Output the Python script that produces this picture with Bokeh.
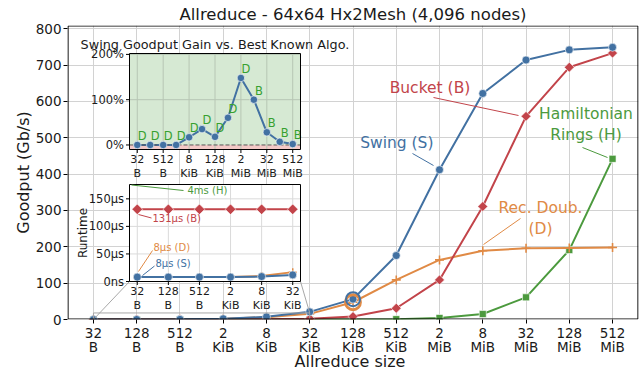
import math
from bokeh.plotting import figure
from bokeh.models import Range1d, FixedTicker, LinearAxis
from bokeh.core.properties import value
from bokeh.embed import file_html
from bokeh.resources import INLINE

# ---- data -------------------------------------------------------------
size_nums = ["32", "128", "512", "2", "8", "32", "128", "512", "2", "8", "32", "128", "512"]
size_units = ["B", "B", "B", "KiB", "KiB", "KiB", "KiB", "KiB", "MiB", "MiB", "MiB", "MiB", "MiB"]

# goodput in Gb/s per allreduce size
goodput_swing = [0.03, 0.13, 0.5, 2.0, 7.3, 21, 56, 176, 412, 622, 714, 742, 749]
goodput_bucket = [0.002, 0.008, 0.03, 0.13, 0.5, 2.0, 8, 31, 109, 311, 559, 694, 733]
goodput_recdoub = [0.03, 0.13, 0.5, 2.0, 6.2, 15.5, 47.5, 109, 164, 189, 196, 197, 198]
goodput_hamilton = [0.0001, 0.0003, 0.001, 0.004, 0.02, 0.07, 0.26, 1.0, 4.2, 15, 61, 191, 442]
goodput_ticks = [0, 100, 200, 300, 400, 500, 600, 700, 800]

# swing gain (%) over best known algorithm, and which algorithm that is
gain_pct = [0, 0, 0, 0, 17, 35, 18, 60, 148, 100, 28, 7, 2]
gain_best = ["D", "D", "D", "D", "D", "D", "D", "D", "D", "B", "B", "B", "B"]
gain_ticks = [0, 100, 200]
gain_tick_labels = ["0%", "100%", "200%"]
gain_size_ticks = [0, 2, 4, 6, 8, 10, 12]

# small-message runtime (µs), sizes 32 B .. 32 KiB
runtime_sizes = [0, 1, 2, 3, 4, 5]
runtime_swing = [8, 8, 8, 8, 9, 12]
runtime_recdoub = [8, 8, 8, 8, 10, 17]
runtime_bucket = [131, 131, 131, 131, 131, 131]
runtime_hamilton_ms = 4
runtime_ticks = [0, 50, 100, 150]
runtime_tick_labels = ["0ns", "50µs", "100µs", "150µs"]

# ---- style ------------------------------------------------------------
FONT = "DejaVu Sans"
BLUE = "#4271a2"
RED = "#c2444a"
ORANGE = "#e08a45"
GREEN = "#4c9a3e"
LABEL_GREEN = "#36a02f"
INK = "#1a1a1a"
GRID = "#d2d2d2"

W, H = 639, 373
FL, FR, FT, FB = 67, 638, 25, 319


class Box:
    """Maps a pixel box of the canvas onto a data window."""

    def __init__(self, l, r, t, b, x0, x1, y0, y1):
        self.l, self.r, self.t, self.b = l, r, t, b
        self.x0, self.x1, self.y0, self.y1 = x0, x1, y0, y1
        self.sx = (r - l) / (x1 - x0)
        self.sy = (b - t) / (y1 - y0)

    def x(self, px):
        return self.x0 + (px - self.l) / self.sx

    def y(self, py):
        return self.y0 + (self.b - py) / self.sy

    def ranges(self):
        return Range1d(self.x(FL), self.x(FR)), Range1d(self.y(FB), self.y(FT))


main = Box(FL, FR, FT, FB, -0.6, 12.6, 0, 809)
gain = Box(129, 300, 53, 149, -0.6, 12.6, -10, 202)
rt = Box(129, 300, 184, 281, -0.25, 5.25, 0, 176)

mxr, myr = main.ranges()
p = figure(width=W, height=H, x_range=mxr, y_range=myr,
           output_backend="svg", toolbar_location=None,
           min_border_left=FL, min_border_right=W - FR,
           min_border_top=FT, min_border_bottom=H - FB)
gxr, gyr = gain.ranges()
rxr, ryr = rt.ranges()
p.extra_x_ranges = {"gx": gxr, "rx": rxr}
p.extra_y_ranges = {"gy": gyr, "ry": ryr}
G = dict(x_range_name="gx", y_range_name="gy")
R = dict(x_range_name="rx", y_range_name="ry")

p.background_fill_color = "white"
p.border_fill_color = "white"
p.outline_line_color = None

p.title.text = "Allreduce - 64x64 Hx2Mesh (4,096 nodes)"
p.title.align = "center"
p.title.text_font = FONT
p.title.text_font_size = "16.5px"
p.title.text_font_style = "normal"
p.title.text_color = INK
p.title.standoff = 3

# ---- main axes --------------------------------------------------------
xs = list(range(len(size_nums)))
xaxis = p.xaxis[0]
yaxis = p.yaxis[0]
xaxis.ticker = FixedTicker(ticks=xs)
xaxis.major_label_overrides = {i: f"{size_nums[i]}\n{size_units[i]}" for i in xs}
yaxis.ticker = FixedTicker(ticks=goodput_ticks)
yaxis.axis_label = "Goodput (Gb/s)"
yaxis.axis_label_standoff = 0
for ax in (xaxis, yaxis):
    ax.axis_line_color = None
    ax.major_tick_line_color = "black"
    ax.major_tick_out = 4
    ax.major_tick_in = 0
    ax.minor_tick_line_color = None
    ax.major_label_standoff = 2
    ax.major_label_text_font = FONT
    ax.major_label_text_font_size = "13.5px"
    ax.major_label_text_color = INK
    ax.axis_label_text_font = FONT
    ax.axis_label_text_font_size = "16px"
    ax.axis_label_text_font_style = "normal"
    ax.axis_label_text_color = INK
xaxis.major_label_standoff = 1
xaxis.major_label_text_line_height = 0.9
p.xgrid.grid_line_color = GRID
p.ygrid.grid_line_color = GRID

# x-axis title carried by a tick-less axis beneath the size labels
xlabel_at = round(main.x(349.5), 2)
p.add_layout(LinearAxis(ticker=FixedTicker(ticks=[xlabel_at]),
                        major_label_overrides={xlabel_at: "Allreduce size"},
                        axis_line_color=None, major_tick_line_color=None, minor_tick_line_color=None,
                        major_tick_out=0, major_tick_in=0, minor_tick_out=0, minor_tick_in=0,
                        major_label_standoff=-6, major_label_text_font=FONT,
                        major_label_text_font_size="16px", major_label_text_color=INK), "below")

# ---- main series ------------------------------------------------------
p.line(xs, goodput_hamilton, color=GREEN, line_width=2)
p.scatter(xs, goodput_hamilton, marker="square", size=7, fill_color=GREEN, line_color="white", line_width=0.6)
p.line(xs, goodput_recdoub, color=ORANGE, line_width=2)
p.scatter(xs, goodput_recdoub, marker="cross", size=9, line_color=ORANGE, line_width=1.6)
p.line(xs, goodput_bucket, color=RED, line_width=2)
p.scatter(xs, goodput_bucket, marker="square", angle=math.pi / 4, size=7, fill_color=RED, line_color="white", line_width=0.6)
p.line(xs, goodput_swing, color=BLUE, line_width=2)
p.scatter(xs, goodput_swing, marker="circle", size=8, fill_color=BLUE, line_color="white", line_width=0.6)

# highlight rings at 128 KiB
p.scatter([6], [goodput_recdoub[6]], marker="circle", size=15, fill_color=None, line_color=ORANGE, line_width=2.8)
p.scatter([6], [goodput_swing[6]], marker="circle", size=14, fill_color=None, line_color=BLUE, line_width=2)


# series names with leader lines
def note(lines, px, py, color, step=21.5, align="center"):
    p.text(x=[main.x(px)] * len(lines), y=[main.y(py + k * step) for k in range(len(lines))],
           text=lines, text_font=value(FONT), text_font_size=value("15.5px"),
           text_color=color, text_align=align, text_baseline="middle")


def leader(box, a, b, color, kw=None, width=1):
    p.segment(x0=[box.x(a[0])], y0=[box.y(a[1])], x1=[box.x(b[0])], y1=[box.y(b[1])],
              line_color=color, line_width=width, **(kw or {}))


note(["Swing (S)"], 433, 142, BLUE, align="right")
leader(main, (412, 153), (433, 165), BLUE)
note(["Bucket (B)"], 429.5, 87.5, RED)
leader(main, (433, 97), (518, 115), RED)
note(["Hamiltonian", "Rings (H)"], 585.5, 113, GREEN)
leader(main, (582, 147), (607, 157), GREEN)
note(["Rec. Doub.", "(D)"], 540, 207, ORANGE)
leader(main, (520, 218), (483, 244), ORANGE)

# zoom box around the small-message region and its connectors
zoom_top = 18
p.quad(left=[0], right=[5], bottom=[0], top=[zoom_top], fill_color=None, line_color="#a8a8a8", line_width=1)
p.segment(x0=[0, 5], y0=[0, zoom_top], x1=[main.x(rt.l), main.x(rt.r)], y1=[main.y(rt.b)] * 2,
          line_color="#a8a8a8", line_width=1)

# ---- inset: goodput gain ----------------------------------------------
p.quad(left=[gain.x0], right=[gain.x1], bottom=[0], top=[gain.y1], fill_color="#d6e9d3", line_color=None, **G)
p.quad(left=[gain.x0], right=[gain.x1], bottom=[gain.y0], top=[0], fill_color="#f3c8c6", line_color=None, **G)
p.segment(x0=gain_size_ticks, y0=[gain.y0] * 7, x1=gain_size_ticks, y1=[gain.y1] * 7,
          line_color="#b7c6b4", line_width=1, **G)
p.segment(x0=[gain.x0] * 2, y0=gain_ticks[1:], x1=[gain.x1] * 2, y1=gain_ticks[1:],
          line_color="#b7c6b4", line_width=1, **G)
p.line(xs, gain_pct, color=BLUE, line_width=2, **G)
p.segment(x0=[gain.x0], y0=[0], x1=[gain.x1], y1=[0], line_color="#555555", line_width=1,
          line_dash="4 2", **G)
p.scatter(xs, gain_pct, marker="circle", size=7.5, fill_color=BLUE, line_color="white", line_width=0.6, **G)
p.text(x=xs, y=gain_pct, text=gain_best, text_font=value(FONT), text_font_size=value("11.5px"),
       text_color=LABEL_GREEN, text_align="center", text_baseline="middle", x_offset=5, y_offset=-9, **G)
p.quad(left=[gain.x0], right=[gain.x1], bottom=[gain.y0], top=[gain.y1], fill_color=None,
       line_color="black", line_width=1, **G)
# ticks and tick labels
p.segment(x0=[gain.x(gain.l - 3.5)] * 3, y0=gain_ticks, x1=[gain.x0] * 3, y1=gain_ticks,
          line_color="black", line_width=1, **G)
p.text(x=[gain.x(gain.l - 5.5)] * 3, y=gain_ticks, text=gain_tick_labels, text_font=value(FONT),
       text_font_size=value("11.5px"), text_color=INK, text_align="right", text_baseline="middle", **G)
p.segment(x0=gain_size_ticks, y0=[gain.y0] * 7, x1=gain_size_ticks, y1=[gain.y(gain.b + 3.5)] * 7,
          line_color="black", line_width=1, **G)
p.text(x=gain_size_ticks, y=[gain.y(gain.b + 9)] * 7, text=[size_nums[i] for i in gain_size_ticks],
       text_font=value(FONT), text_font_size=value("11px"), text_color=INK, text_align="center",
       text_baseline="middle", **G)
p.text(x=gain_size_ticks, y=[gain.y(gain.b + 24)] * 7, text=[size_units[i] for i in gain_size_ticks],
       text_font=value(FONT), text_font_size=value("11px"), text_color=INK, text_align="center",
       text_baseline="middle", **G)
p.text(x=[(gain.x0 + gain.x1) / 2], y=[gain.y(43.5)], text=["Swing Goodput Gain vs. Best Known Algo."],
       text_font=value(FONT), text_font_size=value("12.8px"), text_color=INK, text_align="center",
       text_baseline="middle", **G)

# ---- inset: runtime ---------------------------------------------------
p.quad(left=[rt.x0], right=[rt.x1], bottom=[rt.y0], top=[rt.y1], fill_color="white", line_color=None, **R)
p.segment(x0=runtime_sizes, y0=[rt.y0] * 6, x1=runtime_sizes, y1=[rt.y1] * 6,
          line_color="#dadada", line_width=1, **R)
p.segment(x0=[rt.x0] * 3, y0=runtime_ticks[1:], x1=[rt.x1] * 3, y1=runtime_ticks[1:],
          line_color="#dadada", line_width=1, **R)
p.line(runtime_sizes, runtime_recdoub, color=ORANGE, line_width=2, **R)
p.scatter(runtime_sizes, runtime_recdoub, marker="cross", size=8, line_color=ORANGE, line_width=1.5, **R)
p.line(runtime_sizes, runtime_bucket, color=RED, line_width=2, **R)
p.scatter(runtime_sizes, runtime_bucket, marker="square", angle=math.pi / 4, size=7.5, fill_color=RED,
          line_color="white", line_width=0.6, **R)
p.line(runtime_sizes, runtime_swing, color=BLUE, line_width=2, **R)
p.scatter(runtime_sizes, runtime_swing, marker="circle", size=8, fill_color=BLUE, line_color="white",
          line_width=0.6, **R)
p.quad(left=[rt.x0], right=[rt.x1], bottom=[rt.y0], top=[rt.y1], fill_color=None, line_color="black",
       line_width=1, **R)
p.segment(x0=[rt.x(rt.l - 3.5)] * 4, y0=runtime_ticks, x1=[rt.x0] * 4, y1=runtime_ticks,
          line_color="black", line_width=1, **R)
p.text(x=[rt.x(rt.l - 5.5)] * 4, y=runtime_ticks, text=runtime_tick_labels, text_font=value(FONT),
       text_font_size=value("11.5px"), text_color=INK, text_align="right", text_baseline="middle", **R)
p.segment(x0=runtime_sizes, y0=[rt.y0] * 6, x1=runtime_sizes, y1=[rt.y(rt.b + 3.5)] * 6,
          line_color="black", line_width=1, **R)
p.text(x=runtime_sizes, y=[rt.y(rt.b + 9)] * 6, text=[size_nums[i] for i in runtime_sizes],
       text_font=value(FONT), text_font_size=value("11px"), text_color=INK, text_align="center",
       text_baseline="middle", **R)
p.text(x=runtime_sizes, y=[rt.y(rt.b + 24)] * 6, text=[size_units[i] for i in runtime_sizes],
       text_font=value(FONT), text_font_size=value("11px"), text_color=INK, text_align="center",
       text_baseline="middle", **R)
p.text(x=[rt.x(82)], y=[(rt.y0 + rt.y1) / 2], text=["Runtime"], angle=math.pi / 2,
       text_font=value(FONT), text_font_size=value("12px"), text_color=INK, text_align="center",
       text_baseline="middle", **R)


# runtime callouts
def rt_note(text, px, py, color):
    p.text(x=[rt.x(px)], y=[rt.y(py)], text=[text], text_font=value(FONT), text_font_size=value("10px"),
           text_color=color, text_align="left", text_baseline="middle", **R)


rt_note(f"{runtime_hamilton_ms}ms (H)", 187, 190, GREEN)
leader(rt, (131, 184.5), (183, 190), GREEN, R)
rt_note(f"{runtime_bucket[0]}µs (B)", 152, 218, RED)
leader(rt, (138, 214), (151, 217.5), RED, R)
rt_note(f"{runtime_recdoub[0]}µs (D)", 153, 247, ORANGE)
leader(rt, (138, 271), (152, 250), ORANGE, R)
rt_note(f"{runtime_swing[0]}µs (S)", 155, 262.7, BLUE)
leader(rt, (142, 275), (154, 265.5), BLUE, R)

# ---- plot frame (kept just inside the data area) ----------------------
fx0, fx1 = main.x(FL + 0.5), main.x(FR - 0.5)
fy0, fy1 = main.y(FB - 0.5), main.y(FT + 0.5)
p.segment(x0=[fx0, fx0, fx0, fx1], y0=[fy0, fy1, fy0, fy0], x1=[fx1, fx1, fx0, fx1], y1=[fy0, fy1, fy1, fy1],
          line_color="black", line_width=1.2)

open("out.html", "w").write(file_html(p, INLINE))
